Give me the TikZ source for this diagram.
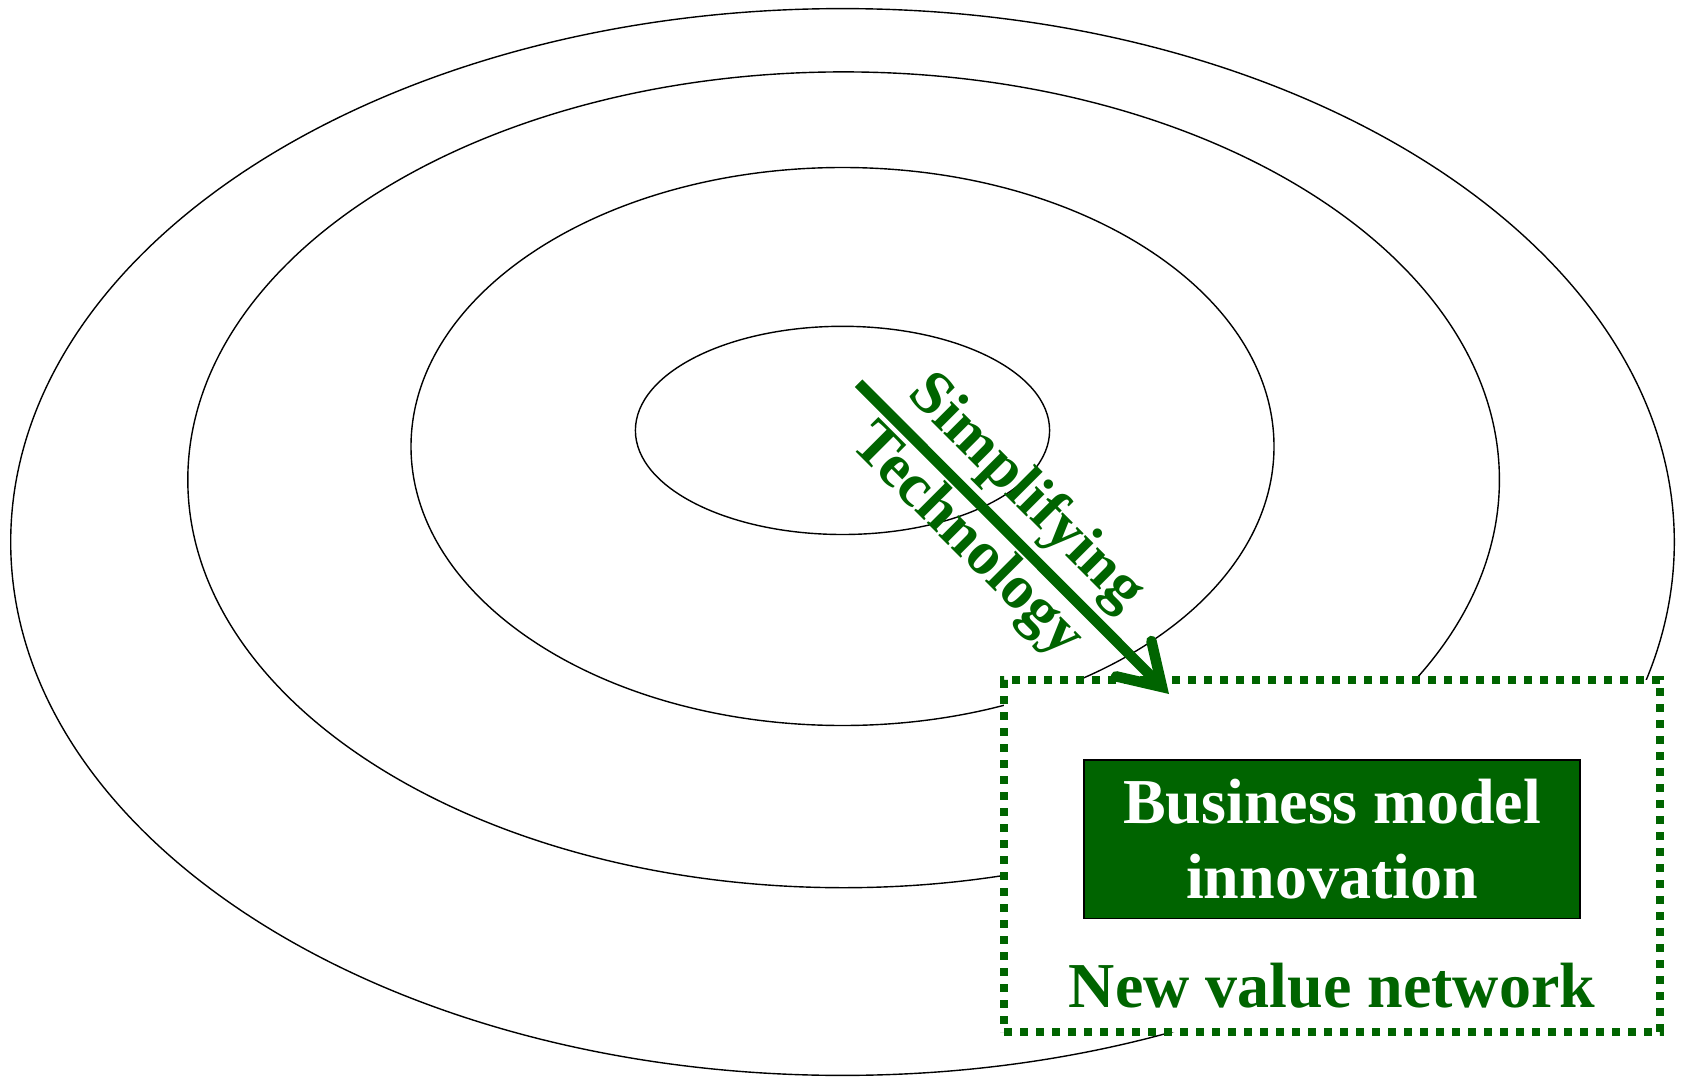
\documentclass[tikz,border=0pt]{standalone}
\usepackage{fontspec}
\setmainfont{Liberation Serif}
\usetikzlibrary{arrows.meta,shapes.geometric}
\definecolor{dgreen}{RGB}{0,100,0}
\begin{document}
\begin{tikzpicture}[x=1pt,y=-1pt,
  ring/.style={ellipse,draw=black,line width=1.4pt,inner sep=0pt,outer sep=0pt},
  netbox/.style={draw=dgreen,fill=white,line width=8pt,dash pattern=on 8pt off 8pt,inner sep=0pt,outer sep=0pt},
  bmibox/.style={draw=black,fill=dgreen,line width=1.2pt,text=white,align=center,inner sep=0pt,
    font=\bfseries\fontsize{64}{75}\selectfont},
  greentext/.style={text=dgreen,font=\bfseries\fontsize{64}{75}\selectfont,inner sep=0pt},
  slopetext/.style={text=dgreen,font=\bfseries\fontsize{62}{62}\selectfont,inner sep=0pt,rotate=-45},
  flow/.style={draw=dgreen,line width=10.5pt,-{Straight Barb[length=40pt,width=50pt,line cap=round,line join=miter]}}
]
\useasboundingbox (0,0) rectangle (1683,1078);
\node[ring,minimum width=1663.6pt,minimum height=1066.8pt] (r4) at (842.5,542) {};
\node[ring,minimum width=1311.6pt,minimum height=815.8pt] (r3) at (843.6,479.8) {};
\node[ring,minimum width=863pt,minimum height=558pt] (r2) at (842.5,446.5) {};
\node[ring,minimum width=414.2pt,minimum height=208.2pt] (r1) at (842.5,430.4) {};
\node[netbox,minimum width=656pt,minimum height=352pt] (net) at (1332,856) {};
\node[bmibox,minimum width=496pt,minimum height=158.7pt] (bmi) at (1332,839.4) {Business model\\innovation};
\node[greentext,anchor=base] (nvn) at (1332,1007.5) {New value network};
\coordinate (a0) at (858.6,383.2);
\coordinate (a1) at (1169,694);
\draw[flow] (a0) -- (a1);
\node[slopetext] (simp) at (1025.2,493.8) {Simplifying};
\node[slopetext] (tech) at (965.9,541.8) {Technology};
\end{tikzpicture}
\end{document}
